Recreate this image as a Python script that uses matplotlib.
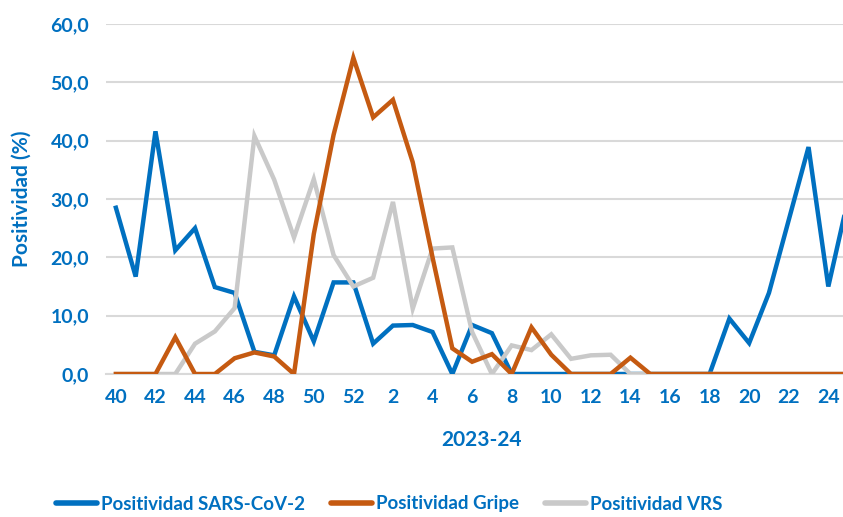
import matplotlib
matplotlib.use("Agg")
import matplotlib.pyplot as plt

weeks = [40, 41, 42, 43, 44, 45, 46, 47, 48, 49, 50, 51, 52,
         1, 2, 3, 4, 5, 6, 7, 8, 9, 10, 11, 12, 13, 14, 15, 16, 17, 18,
         19, 20, 21, 22, 23, 24, 25]

sars = [28.5, 16.7, 41.6, 21.2, 25.0, 14.9, 13.9, 3.8, 3.2, 13.3, 5.6, 15.7, 15.7,
        5.2, 8.3, 8.4, 7.2, 0.0, 8.4, 7.0, 0.0, 0.0, 0.0, 0.0, 0.0, 0.0, 0.0, 0.0, 0.0, 0.0, 0.0,
        9.5, 5.3, 13.9, 26.4, 38.9, 15.0, 30.0]

gripe = [0.0, 0.0, 0.0, 6.3, 0.0, 0.0, 2.7, 3.7, 3.0, 0.0, 24.0, 41.0, 54.2,
         44.0, 47.0, 36.3, 20.0, 4.4, 2.1, 3.4, 0.0, 8.0, 3.3, 0.0, 0.0, 0.0, 2.8, 0.0, 0.0, 0.0, 0.0,
         0.0, 0.0, 0.0, 0.0, 0.0, 0.0, 0.0]

vrs = [0.0, 0.0, 0.0, 0.0, 5.2, 7.3, 11.3, 40.8, 33.3, 23.4, 33.4, 20.4, 15.0,
       16.5, 29.5, 11.2, 21.5, 21.7, 7.2, 0.0, 4.9, 4.1, 6.8, 2.6, 3.2, 3.3, 0.0, 0.0, 0.0, 0.0, 0.0,
       0.0, 0.0, 0.0, 0.0, 0.0, 0.0, 0.0]

x_label = "2023-24"
y_label = "Positividad (%)"
series_names = ["Positividad SARS-CoV-2", "Positividad Gripe", "Positividad VRS"]

plt.rcParams['font.family'] = ['Lato', 'DejaVu Sans']
plt.rcParams['font.weight'] = 'bold'

BLUE = "#0070C0"
ORANGE = "#C55A11"
GREY = "#C9C9C9"
GRID = "#D9D9D9"

W, H = 843, 517
fig = plt.figure(figsize=(W / 100, H / 100), dpi=100)
left_px, right_px, top_px, bot_px = 106, 858, 24, 374
ax = fig.add_axes([left_px / W, (H - bot_px) / H, (right_px - left_px) / W, (bot_px - top_px) / H])

idx = list(range(len(weeks)))
l1, = ax.plot(idx, sars, color=BLUE, lw=3.2, solid_joinstyle='miter', zorder=3)
l2, = ax.plot(idx, gripe, color=ORANGE, lw=3.2, solid_joinstyle='miter', zorder=4)
l3, = ax.plot(idx, vrs, color=GREY, lw=3.2, solid_joinstyle='miter', zorder=3.5)

ax.set_xlim(-0.5, len(weeks) - 0.5)
ax.set_ylim(0, 60)
ax.set_yticks(range(0, 61, 10))
ax.set_yticklabels([f"{v},0" for v in range(0, 61, 10)])
ticks = [i for i in idx if weeks[i] % 2 == 0 and i < len(weeks) - 1]
ax.set_xticks(ticks)
ax.set_xticklabels([str(weeks[i]) for i in ticks])

ax.grid(axis='y', color=GRID, lw=1.5, zorder=0)
ax.set_axisbelow(True)
for s in ['top', 'right', 'left']:
    ax.spines[s].set_visible(False)
ax.spines['bottom'].set_color(GRID)
ax.spines['bottom'].set_linewidth(1.5)
ax.tick_params(axis='both', length=0, colors=BLUE, labelsize=14)
ax.tick_params(axis='x', pad=11)
ax.tick_params(axis='y', pad=12)
for lab in ax.get_xticklabels() + ax.get_yticklabels():
    lab.set_fontweight('bold')

ax.set_xlabel(x_label, color=BLUE, fontsize=15, fontweight='bold')
ax.set_ylabel(y_label, color=BLUE, fontsize=15, fontweight='bold')
ax.xaxis.set_label_coords(0.5, -(440 - bot_px) / (bot_px - top_px))
ax.yaxis.set_label_coords(-(106 - 22) / (right_px - left_px), 0.5)
ax.xaxis.label.set_va('center')
ax.yaxis.label.set_va('center')

leg = fig.legend([l1, l2, l3], series_names, loc='center',
                 bbox_to_anchor=(389 / W, 1 - 504 / H), ncol=3, frameon=False,
                 handlelength=2.2, handletextpad=0.2, columnspacing=1.4,
                 prop={'weight': 'bold', 'size': 13.5})
for t in leg.get_texts():
    t.set_color(BLUE)
for h in leg.get_lines():
    h.set_linewidth(4)
    h.set_solid_capstyle('round')

fig.savefig("out.png", dpi=100)
